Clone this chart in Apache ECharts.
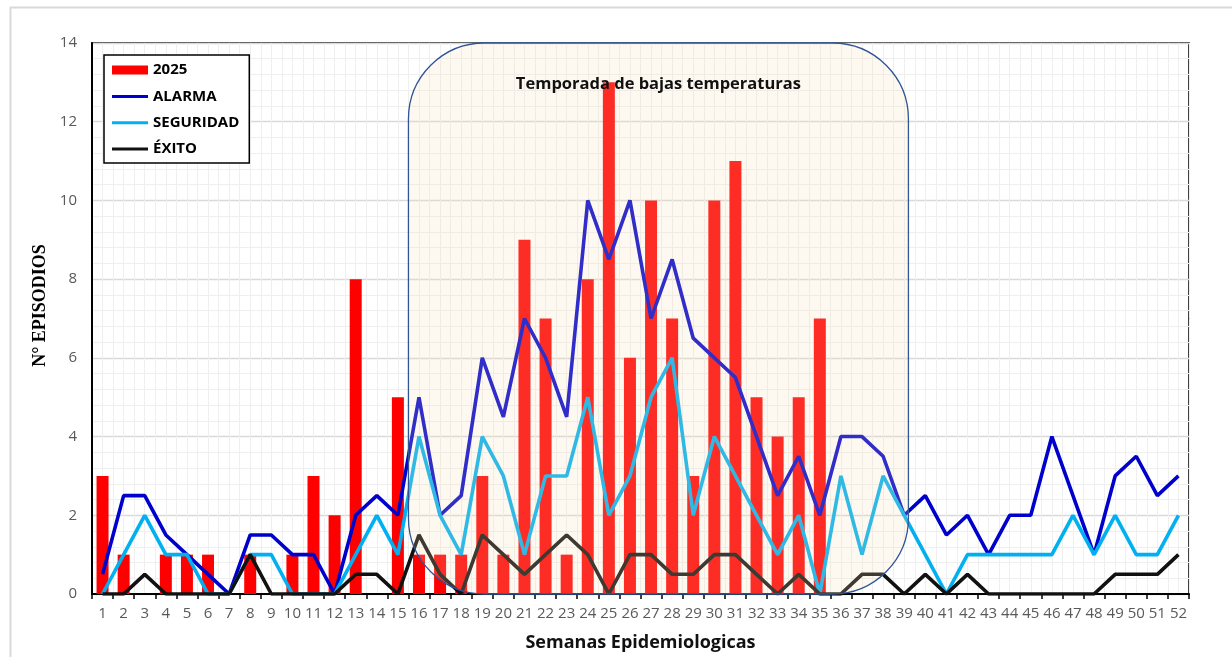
<!DOCTYPE html>
<html>
<head>
<meta charset="utf-8">
<title>Episodios por semana epidemiologica</title>
<script src="https://cdn.jsdelivr.net/npm/echarts@6/dist/echarts.min.js"></script>
<style>
  html, body { margin: 0; padding: 0; background: #fff; }
  #main { width: 1232px; height: 657px; }
</style>
</head>
<body>
<div id="main"></div>
<script>
// semanas 1..52
var semanas = [];
for (var i = 1; i <= 52; i++) semanas.push(String(i));

// casos 2025 (barras)
var casos2025 = [3,1,0,1,1,1,0,1,0,1, 3,2,8,0,5,1,1,1,3,1, 9,7,1,8,13,6,10,7,3,10, 11,5,4,5,7,0,0,0,0,0, 0,0,0,0,0,0,0,0,0,0, 0,0];
// curvas del canal endemico
var alarma = [0.5,2.5,2.5,1.5,1,0.5,0,1.5,1.5,1, 1,0,2,2.5,2,5,2,2.5,6,4.5, 7,6,4.5,10,8.5,10,7,8.5,6.5,6, 5.5,4,2.5,3.5,2,4,4,3.5,2,2.5, 1.5,2,1,2,2,4,2.5,1,3,3.5, 2.5,3];
var seguridad = [0,1,2,1,1,0,0,1,1,0, 0,0,1,2,1,4,2,1,4,3, 1,3,3,5,2,3,5,6,2,4, 3,2,1,2,0,3,1,3,2,1, 0,1,1,1,1,1,2,1,2,1, 1,2];
var exito = [0,0,0.5,0,0,0,0,1,0,0, 0,0,0.5,0.5,0,1.5,0.5,0,1.5,1, 0.5,1,1.5,1,0,1,1,0.5,0.5,1, 1,0.5,0,0.5,0,0,0.5,0.5,0,0.5, 0,0.5,0,0,0,0,0,0,0.5,0.5, 0.5,1];

// temporada de bajas temperaturas (bordes, en unidades de semana del eje auxiliar)
var temporadaDesde = 15.0;
var temporadaHasta = 38.7;

// icono de linea para la leyenda (trazo fino centrado en la caja)
var iconoLinea = 'path://M0,0 L0.01,0 L0.01,0.01 Z M0,3.2 L36,3.2 L36,6.2 L0,6.2 Z M35.99,9 L36,9 L36,8.99 Z';

var myChart = echarts.init(document.getElementById('main'));

var option = {
    animation: false,
    backgroundColor: '#fff',
    textStyle: { fontFamily: 'Open Sans, Noto Sans, sans-serif' },
    grid: {
        left: 92, right: 43, top: 43, bottom: 63,
        show: true, borderColor: '#000', borderWidth: 1.5, backgroundColor: 'transparent'
    },
    legend: {
        orient: 'vertical',
        left: 104, top: 55,
        backgroundColor: '#fff',
        borderColor: '#000', borderWidth: 1.5, borderRadius: 0,
        padding: [6, 10, 5, 8],
        itemWidth: 36, itemHeight: 9, itemGap: 8.3,
        textStyle: { fontSize: 15, fontWeight: 'bold', color: '#000', lineHeight: 18, fontFamily: 'Open Sans, sans-serif' },
        data: [
            { name: '2025', icon: 'rect' },
            { name: 'ALARMA', icon: iconoLinea },
            { name: 'SEGURIDAD', icon: iconoLinea },
            { name: 'ÉXITO', icon: iconoLinea }
        ]
    },
    xAxis: [
        {
            type: 'category',
            data: semanas,
            boundaryGap: true,
            name: 'Semanas Epidemiologicas',
            nameLocation: 'middle',
            nameGap: 40,
            nameTextStyle: { fontSize: 18, fontWeight: 'bold', color: '#111', fontFamily: 'Open Sans, sans-serif' },
            axisLine: { lineStyle: { color: '#000', width: 2 } },
            axisTick: { show: true, length: 5, lineStyle: { color: '#000', width: 1.5 } },
            axisLabel: { color: '#595959', fontSize: 15, margin: 12, interval: 0 },
            splitLine: { show: false }
        },
        {
            // rejilla vertical cada media semana
            type: 'value', min: 0, max: 52, interval: 0.5,
            position: 'bottom',
            axisLine: { show: false }, axisTick: { show: false }, axisLabel: { show: false },
            splitLine: { show: true, lineStyle: { color: '#efefef', width: 1 } }
        }
    ],
    yAxis: {
        type: 'value',
        min: 0, max: 14, interval: 2,
        name: 'N° EPISODIOS',
        nameLocation: 'middle',
        nameGap: 43,
        nameTextStyle: { fontSize: 18, fontWeight: 'bold', color: '#000', fontFamily: 'Liberation Serif, serif', padding: [0, 0, 0, 26] },
        axisLine: { show: true, lineStyle: { color: '#000', width: 2 } },
        axisTick: { show: false },
        axisLabel: { color: '#595959', fontSize: 15, margin: 15 },
        splitLine: { show: true, lineStyle: { color: '#d9d9d9', width: 1.3 } },
        minorTick: { show: false, splitNumber: 5 },
        minorSplitLine: { show: true, lineStyle: { color: '#efefef', width: 1 } }
    },
    series: [
        {
            name: '2025', type: 'bar', data: casos2025,
            barWidth: 12,
            itemStyle: { color: '#ff0000' },
            z: 2
        },
        {
            name: 'ALARMA', type: 'line', data: alarma,
            symbol: 'none',
            lineStyle: { color: '#0000cc', width: 3.6 },
            itemStyle: { color: '#0000cc' },
            z: 3
        },
        {
            name: 'SEGURIDAD', type: 'line', data: seguridad,
            symbol: 'none',
            lineStyle: { color: '#00b0f0', width: 3.6 },
            itemStyle: { color: '#00b0f0' },
            z: 3
        },
        {
            name: 'ÉXITO', type: 'line', data: exito,
            symbol: 'none',
            lineStyle: { color: '#111111', width: 3.6 },
            itemStyle: { color: '#111111' },
            z: 3
        }
    ]
};

myChart.setOption(option);

// recuadro de la temporada, calculado con la escala del eje
var x0 = myChart.convertToPixel({ xAxisIndex: 1 }, temporadaDesde);
var x1 = myChart.convertToPixel({ xAxisIndex: 1 }, temporadaHasta);
var yTop = myChart.convertToPixel({ yAxisIndex: 0 }, 14);
var yBot = myChart.convertToPixel({ yAxisIndex: 0 }, 0);

myChart.setOption({
    graphic: [
        {
            type: 'rect', left: 8, top: 5, z: 0, silent: true,
            shape: { width: 1260, height: 700 },
            style: { fill: 'none', stroke: '#d9d9d9', lineWidth: 2 }
        },
        {
            type: 'rect', z: 50, silent: true,
            shape: { x: x0, y: yTop, width: x1 - x0, height: yBot - yTop, r: 76 },
            style: { fill: 'rgba(245,225,185,0.2)', stroke: '#2f5597', lineWidth: 1.3 }
        },
        {
            type: 'text', z: 60, silent: true,
            x: (x0 + x1) / 2, y: yTop + 41,
            style: {
                text: 'Temporada de bajas temperaturas',
                align: 'center', verticalAlign: 'middle',
                font: 'bold 16.5px "Open Sans", sans-serif', fill: '#111'
            }
        }
    ]
});
</script>
</body>
</html>
